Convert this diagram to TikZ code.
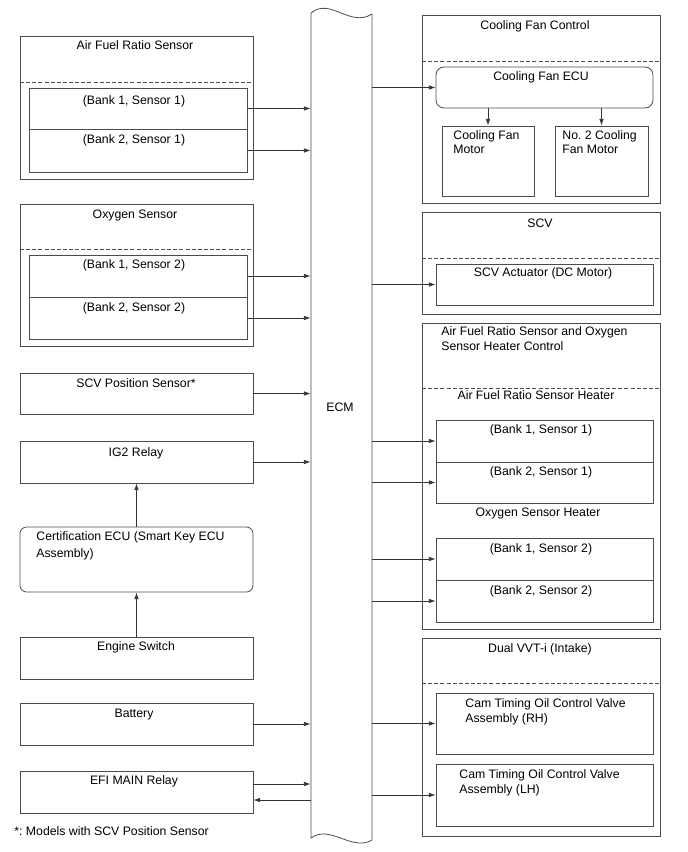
\documentclass[tikz,border=0pt]{standalone}
\usepackage{fontspec}
\setmainfont{Liberation Sans}
\usetikzlibrary{arrows.meta,fit,calc}
\frenchspacing

\begin{document}
\begin{tikzpicture}[x=0.75pt,y=-0.75pt,line width=0.6pt,>={Latex[length=5pt,width=3.4pt]},
  every node/.style={font=\fontsize{9.2}{11}\selectfont},
  box/.style={draw=black!70,inner sep=0pt},
  sep/.style={draw=black!70,dash pattern=on 3pt off 1.6pt},
  txt/.style={inner sep=0pt,anchor=base},
  ltxt/.style={inner sep=0pt,anchor=base west,align=left},
  con/.style={->,draw=black!80}]
  \useasboundingbox (0,0) rectangle (688,852);
  % ECM
  \node[fit={(311,13)(372,838)},inner sep=0pt] (ecm) {};
  \draw[black!70] (311,13) -- (311,838) .. controls (330,824) and (352,852) .. (372,840)
    -- (372,14) .. controls (350,28) and (330,-3) .. (311,13) -- cycle;
  \node[txt] (ecmt) at (340,411.5) {ECM};
  % sensores (izquierda)
  \node[box,fit={(20,36)(253,179)}] (afr) {};
  \draw[sep] (20,82) -- (253,82);
  \node[box,fit={(29,88)(247,129)}] (afr1) {};
  \node[box,fit={(29,129)(247,172)}] (afr2) {};
  \node[txt] (afrt) at (135,49.5) {Air Fuel Ratio Sensor};
  \node[txt] (afr1t) at (134,104.5) {(Bank 1, Sensor 1)};
  \node[txt] (afr2t) at (134,143.5) {(Bank 2, Sensor 1)};
  \node[box,fit={(20,204)(253,346)}] (oxy) {};
  \draw[sep] (20,249) -- (253,249);
  \node[box,fit={(29,255)(247,297)}] (oxy1) {};
  \node[box,fit={(29,297)(247,339)}] (oxy2) {};
  \node[txt] (oxyt) at (135,218.5) {Oxygen Sensor};
  \node[txt] (oxy1t) at (134,268.5) {(Bank 1, Sensor 2)};
  \node[txt] (oxy2t) at (134,311.5) {(Bank 2, Sensor 2)};
  \node[box,fit={(20,373)(253,414)}] (scvp) {};
  \node[txt] (scvpt) at (136,387.5) {SCV Position Sensor*};
  \node[box,fit={(20,441)(253,483)}] (ig2) {};
  \node[txt] (ig2t) at (136,456.5) {IG2 Relay};
  \node[box,rounded corners=5pt,fit={(20,527)(253,592)}] (cert) {};
  \node[ltxt] (certt) at (36,557.5) {Certification ECU (Smart Key ECU\\[2pt]Assembly)};
  \node[box,fit={(20,637)(253,679)}] (engsw) {};
  \node[txt] (engswt) at (136,650.5) {Engine Switch};
  \node[box,fit={(20,703)(253,745)}] (batt) {};
  \node[txt] (battt) at (134,717.5) {Battery};
  \node[box,fit={(20,771)(253,813)}] (efi) {};
  \node[txt] (efit) at (134,784.5) {EFI MAIN Relay};
  \node[ltxt] (note) at (14,835.5) {*: Models with SCV Position Sensor};
  % actuadores (derecha)
  \node[box,fit={(422,15)(660,203)}] (cfc) {};
  \draw[sep] (422,61) -- (660,61);
  \node[box,rounded corners=6pt,fit={(436,67)(653,108)}] (cfecu) {};
  \node[box,fit={(442,126)(534,196)}] (cfm1) {};
  \node[box,fit={(555,126)(648,196)}] (cfm2) {};
  \node[txt] (cfct) at (535,29.5) {Cooling Fan Control};
  \node[txt] (cfecut) at (541,80.5) {Cooling Fan ECU};
  \node[ltxt] (cfm1t) at (453,154) {Cooling Fan\\Motor};
  \node[ltxt] (cfm2t) at (562,154) {No. 2 Cooling\\Fan Motor};
  \node[box,fit={(422,212)(660,314)}] (scv) {};
  \draw[sep] (422,258) -- (660,258);
  \node[box,fit={(436,264)(653,305)}] (scva) {};
  \node[txt] (scvt) at (540,227.5) {SCV};
  \node[txt] (scvat) at (543,276.5) {SCV Actuator (DC Motor)};
  \node[box,fit={(422,323)(660,629)}] (htr) {};
  \draw[sep] (422,388) -- (660,388);
  \node[ltxt] (htrt) at (441,350.5) {Air Fuel Ratio Sensor and Oxygen\\Sensor Heater Control};
  \node[txt] (afrht) at (536,399.5) {Air Fuel Ratio Sensor Heater};
  \node[box,fit={(436,420)(653,462)}] (afrh1) {};
  \node[box,fit={(436,462)(653,503)}] (afrh2) {};
  \node[txt] (afrh1t) at (541,433.5) {(Bank 1, Sensor 1)};
  \node[txt] (afrh2t) at (541,475.5) {(Bank 2, Sensor 1)};
  \node[txt] (oxyht) at (538,516.5) {Oxygen Sensor Heater};
  \node[box,fit={(436,538)(653,580)}] (oxyh1) {};
  \node[box,fit={(436,580)(653,622)}] (oxyh2) {};
  \node[txt] (oxyh1t) at (541,552.5) {(Bank 1, Sensor 2)};
  \node[txt] (oxyh2t) at (541,594.5) {(Bank 2, Sensor 2)};
  \node[box,fit={(422,638)(660,836)}] (vvt) {};
  \draw[sep] (422,683) -- (660,683);
  \node[txt] (vvtt) at (540,652.5) {Dual VVT-i (Intake)};
  \node[box,fit={(436,693)(653,754)}] (ocvr) {};
  \node[box,fit={(436,764)(653,826)}] (ocvl) {};
  \node[ltxt] (ocvrt) at (465,722) {Cam Timing Oil Control Valve\\Assembly (RH)};
  \node[ltxt] (ocvlt) at (459,793.5) {Cam Timing Oil Control Valve\\Assembly (LH)};
  % entradas al ECM
  \foreach \n in {afr1,afr2,oxy1,oxy2,scvp,ig2,batt}
    \draw[con] (\n.east) -- (\n.east -| ecm.west);
  \coordinate (efiA) at ($(efi.east)+(0,-8)$);
  \coordinate (efiB) at ($(efi.east)+(0,8)$);
  \draw[con] (efiA) -- (efiA -| ecm.west);
  \draw[con] (efiB -| ecm.west) -- (efiB);
  \draw[con] (cert.north) -- (ig2.south);
  \draw[con] (engsw.north) -- (cert.south);
  % salidas del ECM
  \foreach \n in {cfecu,scva,afrh1,afrh2,oxyh1,oxyh2,ocvr,ocvl}
    \draw[con] (\n.west -| ecm.east) -- (\n.west);
  \draw[con] (cfm1.north |- cfecu.south) -- (cfm1.north);
  \draw[con] (cfm2.north |- cfecu.south) -- (cfm2.north);
\end{tikzpicture}
\end{document}
